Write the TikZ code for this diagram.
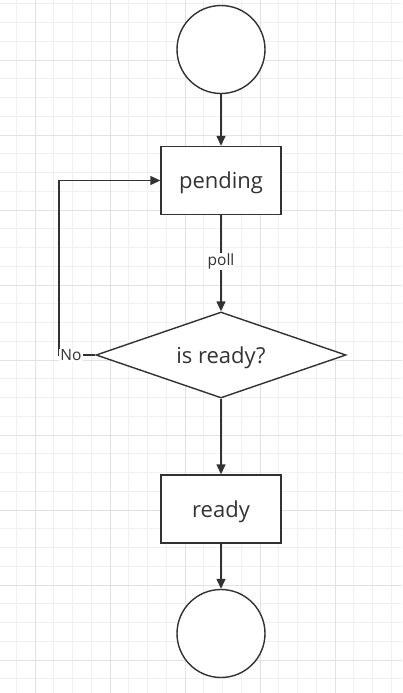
\documentclass[tikz,border=0pt]{standalone}
\usepackage{fontspec}
\setmainfont{Open Sans}
\usetikzlibrary{arrows.meta,shapes.geometric}
\definecolor{ln}{HTML}{323232}
\definecolor{tx}{HTML}{333333}
\definecolor{gminor}{HTML}{F0F0F0}
\definecolor{gmajor}{HTML}{E2E2E2}
\tikzset{
  box/.style={draw=ln,line width=1.4pt,fill=white,minimum width=120pt,minimum height=68pt,inner sep=0pt,text depth=0pt,font=\fontsize{22}{26}\selectfont,text=tx},
  term/.style={draw=ln,line width=1.4pt,fill=white,circle,minimum size=88pt,inner sep=0pt},
  dec/.style={draw=ln,line width=1.4pt,fill=white,diamond,aspect=2.9,minimum width=250pt,minimum height=86pt,inner sep=0pt,text depth=0pt,font=\fontsize{22}{26}\selectfont,text=tx},
  conn/.style={draw=ln,line width=1.4pt,-{Triangle[length=10pt,width=9pt]}},
  lbl/.style={fill=white,inner sep=1pt,font=\fontsize{15.5}{18}\selectfont,text=tx}
}
\begin{document}
\begin{tikzpicture}[x=1pt,y=-1pt]
\useasboundingbox (0,0) rectangle (402,693);
\fill[white] (0,0) rectangle (402,693);
% grid
\foreach \i in {0,...,21} {
  \pgfmathsetmacro{\gx}{16.25+18.75*\i}
  \draw[gminor,line width=0.8pt] (\gx,0) -- (\gx,693);
}
\foreach \i in {0,...,37} {
  \pgfmathsetmacro{\gy}{3.75+18.75*\i}
  \draw[gminor,line width=0.8pt] (0,\gy) -- (402,\gy);
}
\foreach \i in {0,...,4} {
  \pgfmathsetmacro{\gx}{35+75*\i}
  \draw[gmajor,line width=0.8pt] (\gx,0) -- (\gx,693);
}
\foreach \i in {0,...,8} {
  \pgfmathsetmacro{\gy}{60+75*\i}
  \draw[gmajor,line width=0.8pt] (0,\gy) -- (402,\gy);
}
% nodes
\node[term] (start) at (221,49.5) {};
\node[box] (pending) at (221,180.5) {pending};
\node[dec] (check) at (221,355) {is ready?};
\node[box] (ready) at (221,509) {ready};
\node[term] (stop) at (221,633.5) {};
\coordinate (bend1) at (59,355);
\coordinate (bend2) at (59,180.5);
% connectors
\draw[conn] (start) -- (pending);
\draw[conn] (pending) -- node[lbl,pos=0.48] {poll} (check);
\draw[conn] (check.west) -- (bend1) -- (bend2) -- (pending.west);
\node[lbl] (no) at (71,355.5) {No};
\draw[conn] (check) -- (ready);
\draw[conn] (ready) -- (stop);
\end{tikzpicture}
\end{document}
